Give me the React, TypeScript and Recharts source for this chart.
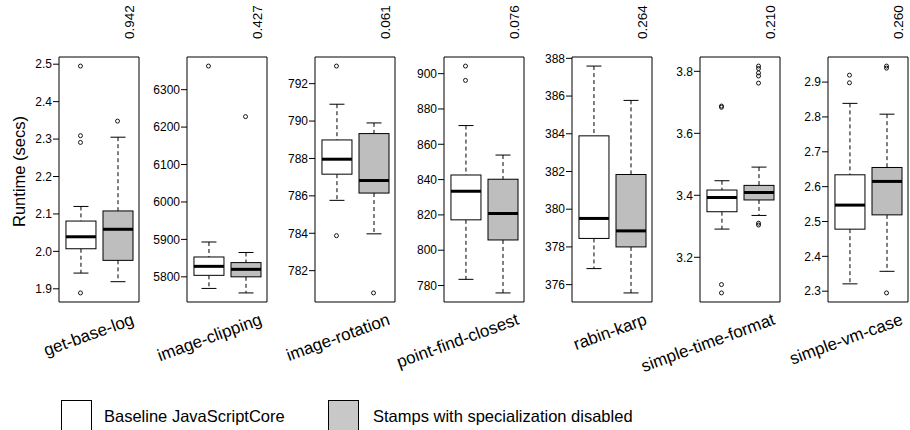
import React from "react";
import { ComposedChart, Bar, Scatter, XAxis, YAxis, ReferenceArea } from "recharts";

const BENCHMARKS = [
  "get-base-log",
  "image-clipping",
  "image-rotation",
  "point-find-closest",
  "rabin-karp",
  "simple-time-format",
  "simple-vm-case",
];

const P_VALUES = ["0.942", "0.427", "0.061", "0.076", "0.264", "0.210", "0.260"];

// [lower whisker, Q1, median, Q3, upper whisker]
const BASELINE_STATS = [
  [1.942, 2.007, 2.039, 2.081, 2.12],
  [5769, 5804, 5828, 5853, 5893],
  [785.76, 787.16, 787.96, 788.99, 790.9],
  [783.5, 817.2, 833.4, 842.6, 870.6],
  [376.85, 378.45, 379.51, 383.89, 387.59],
  [3.291, 3.347, 3.393, 3.417, 3.447],
  [2.321, 2.478, 2.547, 2.634, 2.839],
];

const DISABLED_STATS = [
  [1.919, 1.976, 2.059, 2.108, 2.305],
  [5757, 5800, 5820, 5838, 5865],
  [783.97, 786.15, 786.82, 789.33, 789.9],
  [775.8, 805.8, 820.8, 840.2, 853.9],
  [375.56, 378.0, 378.85, 381.84, 385.77],
  [3.335, 3.385, 3.409, 3.432, 3.491],
  [2.357, 2.519, 2.615, 2.655, 2.808],
];

const BASELINE_OUTLIERS = [
  [2.495, 2.309, 2.291, 1.889],
  [6363],
  [792.94, 783.87],
  [904.3, 896.2],
  [],
  [3.688, 3.684, 3.112, 3.085],
  [2.92, 2.898],
];

const DISABLED_OUTLIERS = [
  [2.348],
  [6228],
  [780.81],
  [],
  [],
  [3.817, 3.809, 3.795, 3.785, 3.762, 3.31, 3.304],
  [2.946, 2.94, 2.295],
];

const Y_TICKS = [
  [1.9, 2.0, 2.1, 2.2, 2.3, 2.4, 2.5],
  [5800, 5900, 6000, 6100, 6200, 6300],
  [782, 784, 786, 788, 790, 792],
  [780, 800, 820, 840, 860, 880, 900],
  [376, 378, 380, 382, 384, 386, 388],
  [3.2, 3.4, 3.6, 3.8],
  [2.3, 2.4, 2.5, 2.6, 2.7, 2.8, 2.9],
];

const SERIES_NAMES = ["Baseline JavaScriptCore", "Stamps with specialization disabled"];
const BOX_FILLS = ["#ffffff", "#bebebe"];
const LEGEND_FILLS = ["#ffffff", "#c8c8c8"];

const FONT = "'Liberation Sans', Arial, Helvetica, sans-serif";
const PANEL_LEFT = 59;
const PANEL_STEP = 128.17;
const PANEL_W = 80;
const PANEL_TOP = 57;
const PANEL_H = 245;
const AXIS_W = 50;
const PAD = 10;

// R style range: data extent stretched by 4% on each side
const extent = (i: number): [number, number] => {
  const all = [...BASELINE_STATS[i], ...DISABLED_STATS[i], ...BASELINE_OUTLIERS[i], ...DISABLED_OUTLIERS[i]];
  const lo = Math.min(...all);
  const hi = Math.max(...all);
  const d = (hi - lo) * 0.04;
  return [lo - d, hi + d];
};

const fmtTick = (v: number) => (v < 100 ? v.toFixed(1) : String(v));

const renderBox = (props: any) => {
  const { x, y, width, height, payload } = props;
  const [lo, q1, med, q3, hi] = payload.stats;
  const top = Math.min(y, y + height);
  const bottom = Math.max(y, y + height);
  // linear scale recovered from the bar's own [lo, hi] pixel span
  const py = (v: number) => top + ((bottom - top) * (hi - v)) / (hi - lo);
  const cx = x + width / 2;
  const cap = width / 4;
  return (
    <g>
      <line x1={cx} x2={cx} y1={py(hi)} y2={py(q3)} stroke="#000" strokeDasharray="4 3" />
      <line x1={cx} x2={cx} y1={py(q1)} y2={py(lo)} stroke="#000" strokeDasharray="4 3" />
      <line x1={cx - cap} x2={cx + cap} y1={py(hi)} y2={py(hi)} stroke="#000" />
      <line x1={cx - cap} x2={cx + cap} y1={py(lo)} y2={py(lo)} stroke="#000" />
      <rect x={x} y={py(q3)} width={width} height={py(q1) - py(q3)} fill={payload.fill} stroke="#000" />
      <line x1={x} x2={x + width} y1={py(med)} y2={py(med)} stroke="#000" strokeWidth={3} />
    </g>
  );
};

const renderOutlier = (props: any) => (
  <circle cx={props.cx} cy={props.cy} r={2} fill="none" stroke="#000" strokeWidth={0.9} />
);

const Panel = ({ index }: { index: number }) => {
  const left = Math.round(PANEL_LEFT + PANEL_STEP * index);
  const domain = extent(index);
  const data = [
    { x: 1, range: [BASELINE_STATS[index][0], BASELINE_STATS[index][4]], stats: BASELINE_STATS[index], fill: BOX_FILLS[0] },
    { x: 2, range: [DISABLED_STATS[index][0], DISABLED_STATS[index][4]], stats: DISABLED_STATS[index], fill: BOX_FILLS[1] },
  ];
  const outliers = [
    ...BASELINE_OUTLIERS[index].map((y) => ({ x: 1, y })),
    ...DISABLED_OUTLIERS[index].map((y) => ({ x: 2, y })),
  ];
  return (
    <div style={{ position: "absolute", left: left - AXIS_W, top: PANEL_TOP - PAD }}>
      <ComposedChart
        width={AXIS_W + PANEL_W + 2}
        height={PANEL_H + PAD * 2}
        data={data}
        margin={{ top: PAD, right: 2, bottom: PAD, left: 0 }}
      >
        <XAxis type="number" dataKey="x" domain={[0.42, 2.58]} allowDataOverflow hide />
        <YAxis
          type="number"
          domain={domain}
          allowDataOverflow
          ticks={Y_TICKS[index]}
          interval={0}
          width={AXIS_W}
          axisLine={false}
          tickLine={{ stroke: "#000" }}
          tickSize={6}
          tickMargin={1}
          tickFormatter={fmtTick}
          tick={{ fontSize: 12, fill: "#000", fontFamily: FONT }}
        />
        <Bar dataKey="range" barSize={30} shape={renderBox} isAnimationActive={false} />
        <Scatter data={outliers} dataKey="y" shape={renderOutlier} isAnimationActive={false} />
        <ReferenceArea y1={domain[0]} y2={domain[1]} fill="none" stroke="#000" strokeWidth={1} ifOverflow="visible" />
      </ComposedChart>
    </div>
  );
};

export default function App() {
  return (
    <div style={{ position: "absolute", left: 0, top: 0, width: 910, height: 430, background: "#fff", overflow: "hidden" }}>
      {BENCHMARKS.map((_, i) => (
        <Panel key={i} index={i} />
      ))}
      <svg width={910} height={430} style={{ position: "absolute", left: 0, top: 0, pointerEvents: "none" }} fontFamily={FONT}>
        <text transform="translate(19,171.5) rotate(-90)" textAnchor="middle" dominantBaseline="central" fontSize={16.5} fill="#000">
          Runtime (secs)
        </text>
        {BENCHMARKS.map((name, i) => {
          const right = Math.round(PANEL_LEFT + PANEL_STEP * i) + PANEL_W;
          return (
            <g key={name}>
              <text transform={`translate(${right - 5},39) rotate(-90)`} fontSize={13.5} fill="#000">
                {P_VALUES[i]}
              </text>
              <text transform={`translate(${right - 4},324) rotate(-20)`} textAnchor="end" fontSize={17} fill="#000">
                {name}
              </text>
            </g>
          );
        })}
        {SERIES_NAMES.map((name, i) => {
          const bx = i === 0 ? 61.5 : 328.5;
          const tx = i === 0 ? 104 : 373;
          return (
            <g key={name}>
              <rect x={bx} y={400.5} width={30} height={30} fill={LEGEND_FILLS[i]} stroke="#000" />
              <text x={tx} y={416} dominantBaseline="central" fontSize={16.5} fill="#000">
                {name}
              </text>
            </g>
          );
        })}
      </svg>
    </div>
  );
}
